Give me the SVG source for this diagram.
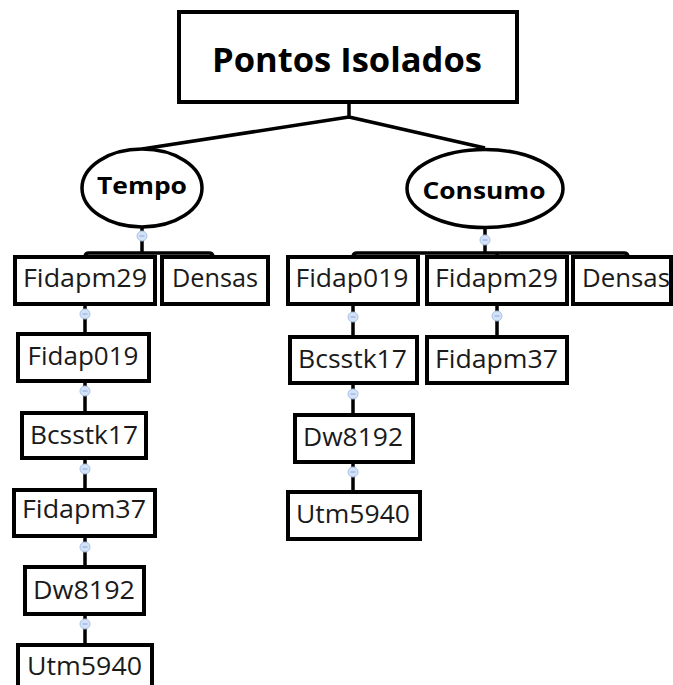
<svg xmlns="http://www.w3.org/2000/svg" width="673" height="685" viewBox="0 0 673 685">
<style>
.box{fill:#fff;stroke:#000;stroke-width:4}
.ell{fill:#fff;stroke:#000;stroke-width:3.5}
.ln{fill:none;stroke:#000;stroke-width:3.5}
.t{font-family:"Open Sans","Noto Sans","Liberation Sans",sans-serif;font-size:25px;fill:#1a1a1a;text-anchor:middle}
.b{font-family:"Open Sans","Noto Sans","Liberation Sans",sans-serif;font-weight:bold;fill:#000;text-anchor:middle}
.tg circle{fill:#d3e2f7;stroke:#a9c3ea;stroke-width:1}
.tg line{stroke:#8aa6d6;stroke-width:1}
</style>
<rect width="673" height="685" fill="#fff"/>
<g id="connectors">
<path class="ln" d="M349,102 V117 L142,149 M349,117 L485,148"/>
<path class="ln" d="M142,227 V253 M85,257 Q85,253 89,253 H209 Q213,253 213,257"/>
<path class="ln" d="M485,228 V253 M353,257 Q353,253 357,253 H624 Q628,253 628,257 M497,253 V257"/>
<path class="ln" d="M85,304 V334 M85,381 V413 M85,458 V490 M85,536 V567 M85,614 V645"/>
<path class="ln" d="M353,304 V337 M353,383 V415 M353,462 V492 M497,304 V337"/>
</g>
<g class="tg" id="toggles">
<g><circle cx="142" cy="236" r="5"/><line x1="139.5" y1="236" x2="144.5" y2="236"/></g>
<g><circle cx="485" cy="240" r="5"/><line x1="482.5" y1="240" x2="487.5" y2="240"/></g>
<g><circle cx="85" cy="314" r="5"/><line x1="82.5" y1="314" x2="87.5" y2="314"/></g>
<g><circle cx="85" cy="391" r="5"/><line x1="82.5" y1="391" x2="87.5" y2="391"/></g>
<g><circle cx="85" cy="469" r="5"/><line x1="82.5" y1="469" x2="87.5" y2="469"/></g>
<g><circle cx="85" cy="547" r="5"/><line x1="82.5" y1="547" x2="87.5" y2="547"/></g>
<g><circle cx="85" cy="624" r="5"/><line x1="82.5" y1="624" x2="87.5" y2="624"/></g>
<g><circle cx="353" cy="317" r="5"/><line x1="350.5" y1="317" x2="355.5" y2="317"/></g>
<g><circle cx="353" cy="394" r="5"/><line x1="350.5" y1="394" x2="355.5" y2="394"/></g>
<g><circle cx="353" cy="472" r="5"/><line x1="350.5" y1="472" x2="355.5" y2="472"/></g>
<g><circle cx="497" cy="316" r="5"/><line x1="494.5" y1="316" x2="499.5" y2="316"/></g>
</g>
<g id="root">
<rect class="box" x="179" y="12" width="338" height="90"/>
<text class="b" x="347" y="72" font-size="34" textLength="270" lengthAdjust="spacingAndGlyphs">Pontos Isolados</text>
</g>
<g id="tempo">
<ellipse class="ell" cx="142" cy="188" rx="60" ry="39"/>
<text class="b" x="142" y="194" font-size="24" textLength="90" lengthAdjust="spacingAndGlyphs">Tempo</text>
</g>
<g id="consumo">
<ellipse class="ell" cx="485" cy="188.5" rx="78" ry="39"/>
<text class="b" x="484" y="199" font-size="24" textLength="123" lengthAdjust="spacingAndGlyphs">Consumo</text>
</g>
<g id="t-fidapm29"><rect class="box" x="15" y="257" width="140" height="47"/><text class="t" x="85" y="287" textLength="124" lengthAdjust="spacingAndGlyphs">Fidapm29</text></g>
<g id="t-densas"><rect class="box" x="162" y="257" width="106" height="47"/><text class="t" x="215" y="287" textLength="86" lengthAdjust="spacingAndGlyphs">Densas</text></g>
<g id="t-fidap019"><rect class="box" x="18" y="334" width="131" height="47"/><text class="t" x="83" y="365" textLength="111" lengthAdjust="spacingAndGlyphs">Fidap019</text></g>
<g id="t-bcsstk17"><rect class="box" x="22" y="413" width="124" height="45"/><text class="t" x="84" y="444" textLength="108" lengthAdjust="spacingAndGlyphs">Bcsstk17</text></g>
<g id="t-fidapm37"><rect class="box" x="14" y="490" width="141" height="46"/><text class="t" x="84" y="518" textLength="124" lengthAdjust="spacingAndGlyphs">Fidapm37</text></g>
<g id="t-dw8192"><rect class="box" x="25" y="567" width="119" height="47"/><text class="t" x="84" y="599" textLength="102" lengthAdjust="spacingAndGlyphs">Dw8192</text></g>
<g id="t-utm5940"><rect class="box" x="18" y="645" width="134" height="47"/><text class="t" x="84.5" y="675" textLength="115" lengthAdjust="spacingAndGlyphs">Utm5940</text></g>
<g id="c-fidap019"><rect class="box" x="288" y="257" width="130" height="47"/><text class="t" x="352" y="287" textLength="113" lengthAdjust="spacingAndGlyphs">Fidap019</text></g>
<g id="c-fidapm29"><rect class="box" x="427" y="257" width="140" height="47"/><text class="t" x="496.5" y="287" textLength="123" lengthAdjust="spacingAndGlyphs">Fidapm29</text></g>
<g id="c-densas"><rect class="box" x="573" y="257" width="98" height="47"/><text class="t" x="626" y="287" textLength="88" lengthAdjust="spacingAndGlyphs">Densas</text></g>
<g id="c-bcsstk17"><rect class="box" x="290" y="337" width="127" height="46"/><text class="t" x="352.5" y="368" textLength="109" lengthAdjust="spacingAndGlyphs">Bcsstk17</text></g>
<g id="c-fidapm37"><rect class="box" x="427" y="337" width="140" height="46"/><text class="t" x="496.5" y="368" textLength="123" lengthAdjust="spacingAndGlyphs">Fidapm37</text></g>
<g id="c-dw8192"><rect class="box" x="295" y="415" width="118" height="47"/><text class="t" x="353" y="446" textLength="100" lengthAdjust="spacingAndGlyphs">Dw8192</text></g>
<g id="c-utm5940"><rect class="box" x="288" y="492" width="132" height="47"/><text class="t" x="353" y="523" textLength="114" lengthAdjust="spacingAndGlyphs">Utm5940</text></g>
</svg>
